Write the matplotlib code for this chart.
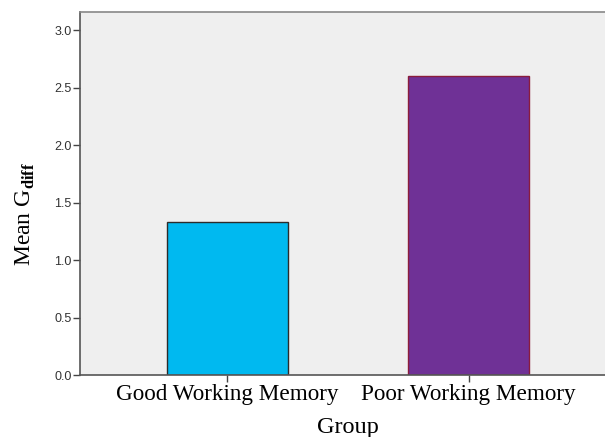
import numpy as np
import matplotlib
matplotlib.use('Agg')
import matplotlib.pyplot as plt

plt.rcParams['mathtext.fontset'] = 'custom'
plt.rcParams['mathtext.rm'] = 'Liberation Serif'
plt.rcParams['mathtext.bf'] = 'Liberation Serif:bold'

# data
groups = ['Good Working Memory', 'Poor Working Memory']
means = [1.33, 2.60]
bar_colors = ['#00B9F0', '#6F3196']
edge_colors = ['#2b2b2b', '#8a1c3c']
yticks = [0.0, 0.5, 1.0, 1.5, 2.0, 2.5, 3.0]

fig = plt.figure(figsize=(6.05, 4.37), dpi=100)
ax = fig.add_axes([80 / 605, 1 - 375 / 437, 536 / 605, 363 / 437])
ax.set_facecolor('#EFEFEF')

x = np.arange(len(groups))
ax.bar(x, means, width=0.5, color=bar_colors, edgecolor=edge_colors, linewidth=1.0, zorder=2)

ax.set_xlim(-0.612, 1.612)
ax.set_ylim(0, 3.157)
ax.set_yticks(yticks)
ax.set_yticklabels([f'{v:.1f}' for v in yticks], fontname='Liberation Sans',
                   fontsize=9, color='#333333')
ax.set_xticks(x)
ax.set_xticklabels(groups, fontname='Liberation Serif', fontsize=16.7, color='black')
ax.tick_params(axis='y', length=5, width=1, color='#444444', pad=1)
ax.tick_params(axis='x', length=5, width=1, color='#444444', pad=1.5)

for side in ['left', 'bottom']:
    ax.spines[side].set_color('#555555')
    ax.spines[side].set_linewidth(1.2)
ax.spines['top'].set_color('#888888')
ax.spines['top'].set_linewidth(1.2)
ax.spines['right'].set_visible(False)

fig.text(25 / 605, 1 - 214 / 437, r'Mean G$_{\mathbf{diff}}$', rotation=90,
         ha='center', va='center', fontname='Liberation Serif', fontsize=17)
fig.text(348 / 605, 1 - 427 / 437, 'Group', ha='center', va='center',
         fontname='Liberation Serif', fontsize=17.5)

fig.savefig('out.png', dpi=100)
